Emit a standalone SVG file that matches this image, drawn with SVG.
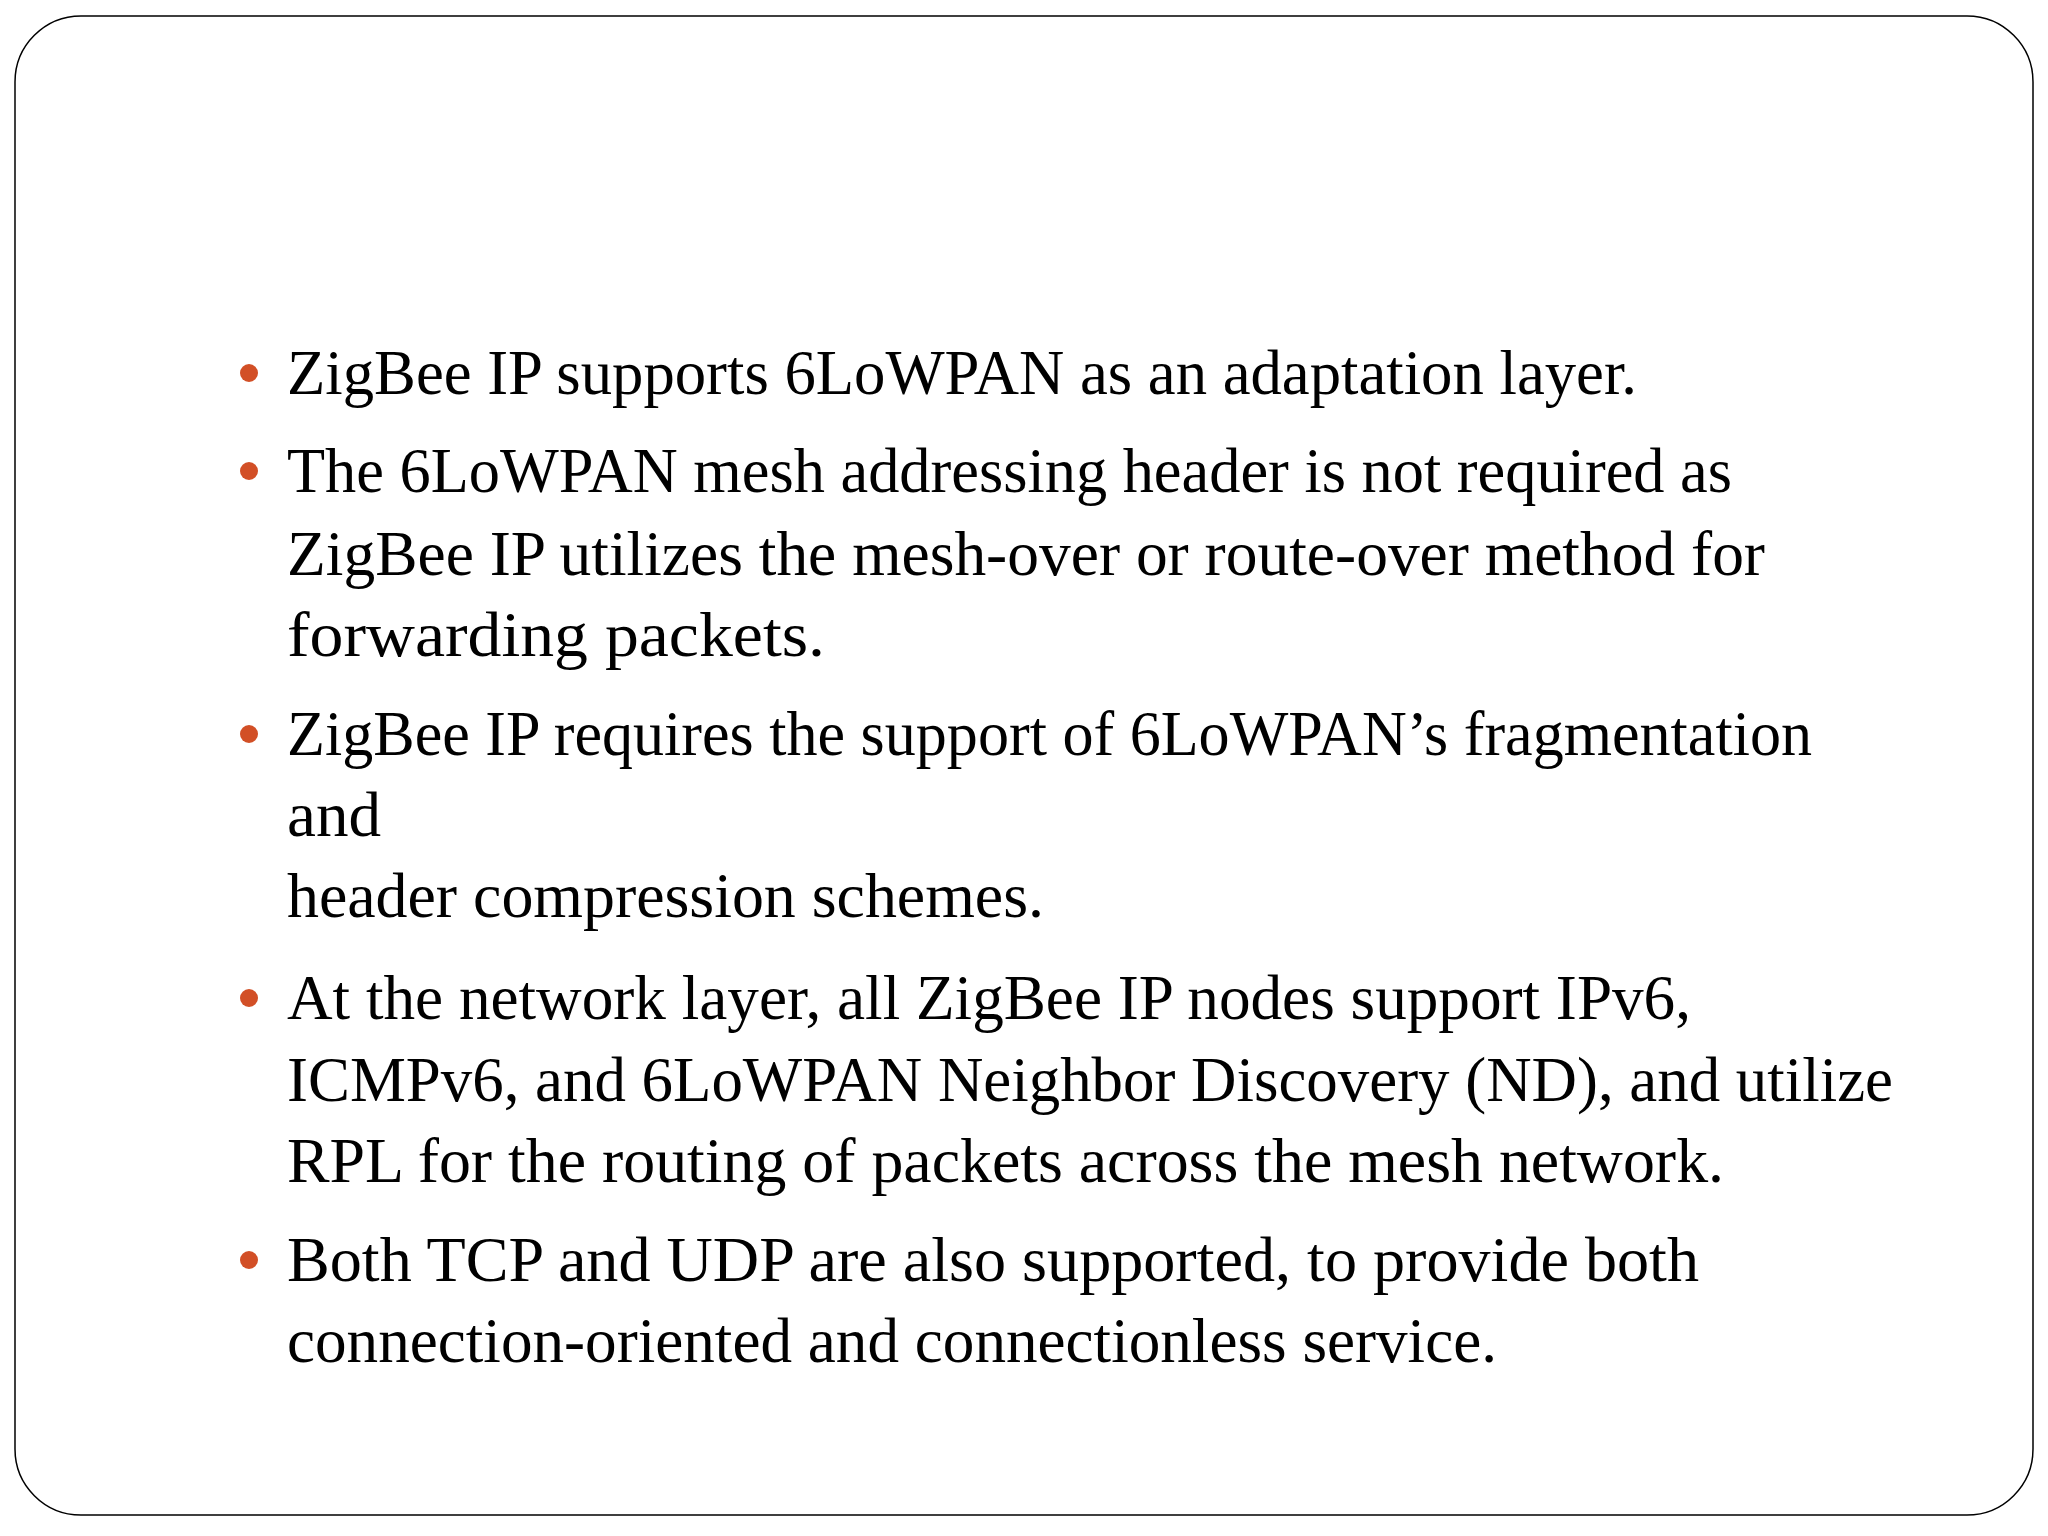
<svg xmlns="http://www.w3.org/2000/svg" width="2048" height="1536" viewBox="0 0 2048 1536">
<style>
.t{font-family:"Liberation Serif","Times New Roman",serif;font-size:64px;fill:#000}
.b{fill:#d24f26}
</style>
<rect width="2048" height="1536" fill="#fff"/>
<rect x="15" y="16" width="2018" height="1499" rx="66" ry="66" fill="none" stroke="#000" stroke-width="1.5"/>
<g id="bullets">
<circle class="b" cx="249" cy="373" r="9"/>
<circle class="b" cx="249" cy="471" r="9"/>
<circle class="b" cx="249" cy="734" r="9"/>
<circle class="b" cx="249" cy="998" r="9"/>
<circle class="b" cx="249" cy="1260" r="9"/>
</g>
<g id="text">
<text class="t" x="287" y="394" textLength="1350" lengthAdjust="spacingAndGlyphs">ZigBee IP supports 6LoWPAN as an adaptation layer.</text>
<text class="t" x="287" y="492" textLength="1445" lengthAdjust="spacingAndGlyphs">The 6LoWPAN mesh addressing header is not required as</text>
<text class="t" x="287" y="575" textLength="1478" lengthAdjust="spacingAndGlyphs">ZigBee IP utilizes the mesh-over or route-over method for</text>
<text class="t" x="287" y="656" textLength="538" lengthAdjust="spacingAndGlyphs">forwarding packets.</text>
<text class="t" x="287" y="755" textLength="1525" lengthAdjust="spacingAndGlyphs">ZigBee IP requires the support of 6LoWPAN’s fragmentation</text>
<text class="t" x="287" y="836" textLength="94" lengthAdjust="spacingAndGlyphs">and</text>
<text class="t" x="287" y="917" textLength="757" lengthAdjust="spacingAndGlyphs">header compression schemes.</text>
<text class="t" x="287" y="1019" textLength="1404" lengthAdjust="spacingAndGlyphs">At the network layer, all ZigBee IP nodes support IPv6,</text>
<text class="t" x="287" y="1101" textLength="1606" lengthAdjust="spacingAndGlyphs">ICMPv6, and 6LoWPAN Neighbor Discovery (ND), and utilize</text>
<text class="t" x="287" y="1182" textLength="1437" lengthAdjust="spacingAndGlyphs">RPL for the routing of packets across the mesh network.</text>
<text class="t" x="287" y="1281" textLength="1412" lengthAdjust="spacingAndGlyphs">Both TCP and UDP are also supported, to provide both</text>
<text class="t" x="287" y="1362" textLength="1210" lengthAdjust="spacingAndGlyphs">connection-oriented and connectionless service.</text>
</g>
</svg>
